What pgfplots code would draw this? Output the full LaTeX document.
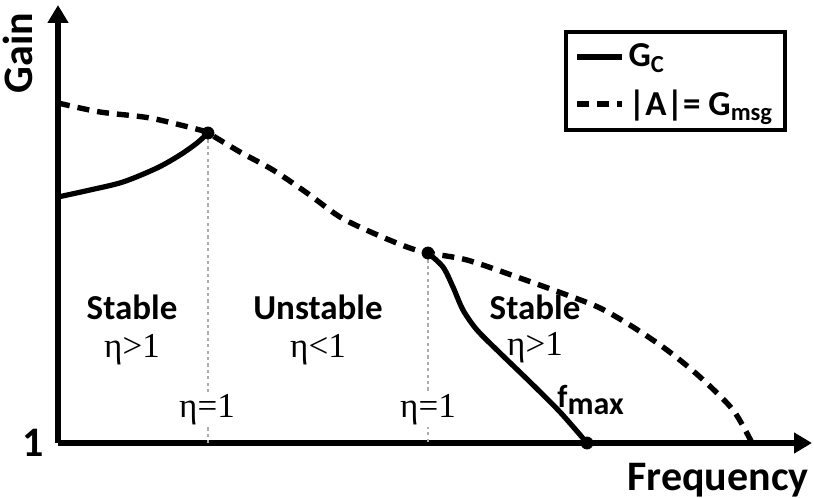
\documentclass[border=0pt]{standalone}
\usepackage{pgfplots}
\pgfplotsset{compat=1.18}
\usetikzlibrary{arrows.meta}
\usepackage{fontspec}
\setmainfont{Carlito}
\newfontfamily\grk{Liberation Serif}
\begin{document}
\begin{tikzpicture}
\begin{axis}[
    x=0.5pt, y=0.5pt,
    xmin=58, xmax=812, ymin=55, ymax=493,
    enlargelimits=false,
    axis lines=left,
    axis line style={line width=3pt, -{Triangle[length=9pt,width=10pt]}},
    xtick=\empty,
    ytick={55}, yticklabels={\textbf{1}},
    major tick length=0pt,
    yticklabel style={font=\fontsize{21}{24}\selectfont\bfseries, inner sep=0pt, xshift=-7pt},
    clip=false,
    legend style={at={(0.967,0.943)}, anchor=north east, draw=black, line width=2pt,
        font=\fontsize{17.5}{20}\selectfont\bfseries, inner xsep=4pt, inner ysep=4pt,
        row sep=6pt, cells={anchor=west}},
    legend image code/.code={\draw[#1] (0pt,0pt) -- (22.5pt,0pt);},
]
% gray dotted markers at eta = 1
\addplot[gray!65, line width=1.3pt, dash pattern=on 1.6pt off 1.6pt, forget plot] coordinates {(208,365) (208,55)};
\addplot[gray!65, line width=1.3pt, dash pattern=on 1.6pt off 1.6pt, forget plot] coordinates {(428,245) (428,55)};

% G_C, low-frequency branch
\addplot[black, line width=2.6pt, smooth] coordinates {
(58,301) (90,308) (123,316) (157,330) (180,343) (197,355) (208,365)
};
\addlegendentry{G\textsubscript{C}}

% |A| = G_msg
\addplot[black, line width=2.7pt, dash pattern=on 6pt off 4pt, smooth] coordinates {
(58,395) (100,386) (150,380) (200,368) (208,365) (240,346) (273,328)
(307,305) (340,281) (373,265) (407,251) (428,245) (467,238) (517,221)
(567,203) (600,190) (633,171) (667,148) (700,121) (733,88) (752,55)
};
\addlegendentry{|A|= G\textsubscript{msg}}

% G_C, high-frequency branch
\addplot[black, line width=2.6pt, smooth, forget plot] coordinates {
(428,245) (443,231) (453,211) (463,188) (477,168) (500,145) (530,116) (560,86) (587,55)
};

% points
\addplot[only marks, mark=*, mark size=3pt, black, forget plot] coordinates {
(208,365) (428,245) (587,55)
};

\node[font=\fontsize{17.5}{20}\selectfont\bfseries] at (axis cs:132,191) {Stable};
\node[font=\fontsize{17.5}{20}\selectfont\grk] at (axis cs:132,148) {η>1};
\node[font=\fontsize{17.5}{20}\selectfont\bfseries] at (axis cs:318,191) {Unstable};
\node[font=\fontsize{17.5}{20}\selectfont\grk] at (axis cs:318,148) {η<1};
\node[font=\fontsize{17.5}{20}\selectfont\bfseries] at (axis cs:535,191) {Stable};
\node[font=\fontsize{17.5}{20}\selectfont\grk] at (axis cs:535,150) {η>1};
\node[font=\fontsize{17.5}{20}\selectfont\grk, fill=white, inner sep=1pt] at (axis cs:207,88) {η=1};
\node[font=\fontsize{17.5}{20}\selectfont\grk, fill=white, inner sep=1pt] at (axis cs:428,88) {η=1};
\node[font=\fontsize{16}{18}\selectfont\bfseries, anchor=base west, inner sep=0pt] at (axis cs:557,90) {f\raisebox{-3.5pt}{max}};

\node[font=\fontsize{21}{24}\selectfont\bfseries, rotate=90, anchor=base, inner sep=0pt] at (axis cs:33,445) {Gain};
\node[font=\fontsize{21}{24}\selectfont\bfseries, anchor=base, inner sep=0pt] at (axis cs:718,8) {Frequency};

\coordinate (bl) at (axis cs:0,0);
\coordinate (tr) at (axis cs:814,498);
\end{axis}
\pgfresetboundingbox
\useasboundingbox (bl) rectangle (tr);
\end{tikzpicture}
\end{document}
